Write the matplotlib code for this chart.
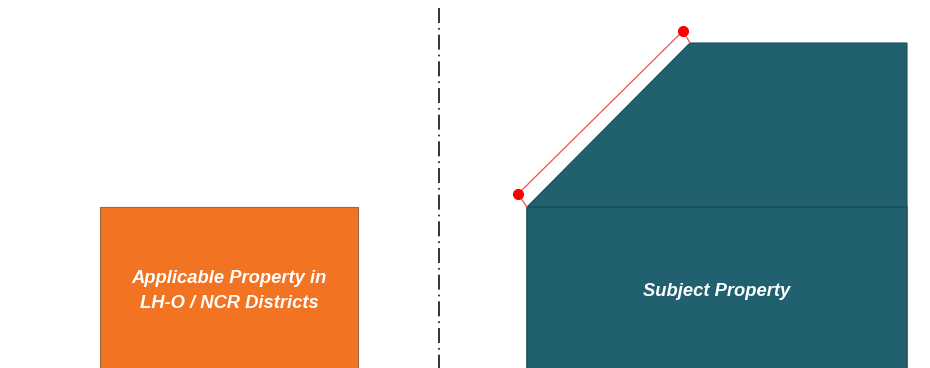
import matplotlib.pyplot as plt
from matplotlib.patches import Polygon, Rectangle

# diagram geometry in pixel units (x to the right, y downwards)
orange_box = [100, 207, 258, 170]          # x, y, width, height
subject_base = [527, 207, 380, 170]
subject_roof = [(527, 207), (690, 43), (907, 43), (907, 207)]
setback_line = [(518, 194), (683, 31)]
divider_x = 439
labels = ["Applicable Property in\nLH-O / NCR Districts", "Subject Property"]
label_pos = [(229, 291), (717, 292)]

ORANGE = "#F27321"
TEAL = "#21616F"

fig = plt.figure(figsize=(9.3, 3.68), dpi=100)
ax = fig.add_axes([0, 0, 1, 1])
ax.set_xlim(0, 930)
ax.set_ylim(368, 0)
ax.axis("off")

x, y, w, h = orange_box
ax.add_patch(Rectangle((x, y), w, h, facecolor=ORANGE, edgecolor="#9a6a48", lw=0.8))

x, y, w, h = subject_base
ax.add_patch(Polygon(subject_roof, closed=True, facecolor=TEAL, edgecolor="#1b4f5b", lw=0.8))
ax.add_patch(Rectangle((x, y), w, h, facecolor=TEAL, edgecolor="#1b4f5b", lw=1.2))

# setback plane line with dimension ticks back to the roof corners
(x0, y0), (x1, y1) = setback_line
ax.plot([x0, x1], [y0, y1], color="#f05050", lw=0.9)
ax.plot([x0, subject_roof[0][0]], [y0, subject_roof[0][1]], color="#f05050", lw=0.9)
ax.plot([x1, subject_roof[1][0]], [y1, subject_roof[1][1]], color="#f05050", lw=0.9)
ax.plot([x0, x1], [y0, y1], "o", color="#ff0000", ms=7, zorder=5)

ax.plot([divider_x, divider_x], [8, 368], color="#111111", lw=1.2,
        linestyle=(0, (9, 3, 1, 3)))

for text, (tx, ty) in zip(labels, label_pos):
    ax.text(tx, ty, text, ha="center", va="center", color="white",
            fontsize=13.2, fontweight="bold", fontstyle="italic",
            family="Liberation Sans", linespacing=1.55)

fig.savefig("out.png", dpi=100)
